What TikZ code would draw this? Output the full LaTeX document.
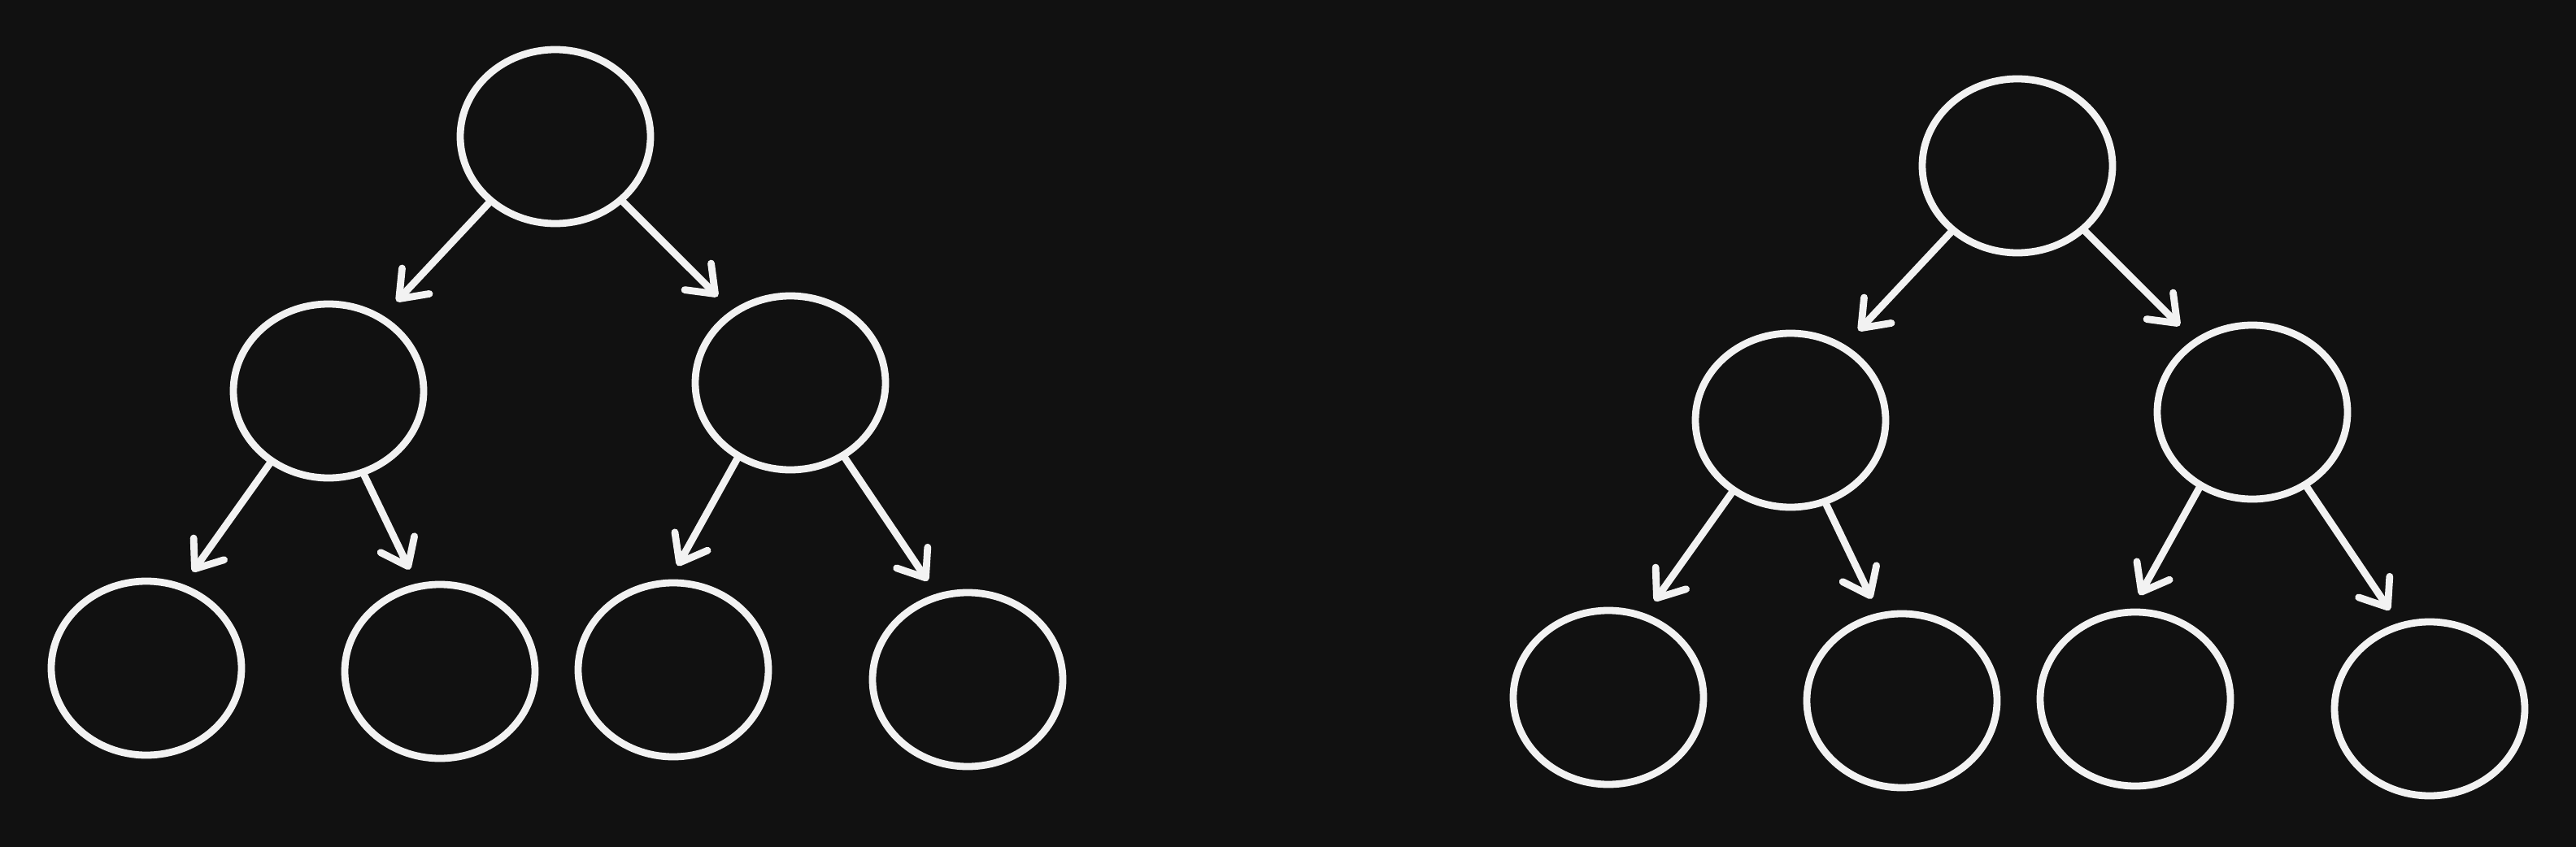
\documentclass[tikz,border=0pt]{standalone}
\usepackage{tikz}
\usetikzlibrary{arrows.meta,shapes}
\definecolor{fondo}{HTML}{111111}
\definecolor{trazo}{HTML}{F2F2F2}

\begin{document}
\begin{tikzpicture}[>={Straight Barb[length=3mm,width=4.6mm,round]},line cap=round,line join=round,line width=2.5pt]
 \tikzstyle{nodo}=[draw=trazo,ellipse,minimum width=2.34cm,minimum height=2.14cm,inner sep=0pt]
 \tikzstyle{flecha}=[->,draw=trazo,shorten >=1.9mm]

   \fill[fondo] (0,0) rectangle (31.68,-10.42);

   % two copies of the same tree
   \foreach \t/\dx/\dy in {i/0/0,d/17.98/-0.36}{
   \begin{scope}[shift={(\dx,\dy)}]
   \node[nodo] (r\t) at (6.83,-1.68) {};
   \node[nodo] (a\t) at (4.04,-4.81) {};
   \node[nodo] (b\t) at (9.72,-4.71) {};
   \node[nodo] (a\t1) at (1.80,-8.22) {};
   \node[nodo] (a\t2) at (5.41,-8.26) {};
   \node[nodo] (b\t1) at (8.28,-8.24) {};
   \node[nodo] (b\t2) at (11.90,-8.36) {};

   \path
   (r\t.225) edge[flecha,shorten >=2.4mm] (a\t.54)
   (r\t.316) edge[flecha,shorten >=2.4mm] (b\t.129)
   (a\t.231) edge[flecha] (a\t1.66)
   (a\t.293) edge[flecha] (a\t2.105)
   (b\t.235) edge[flecha] (b\t1.92)
   (b\t.306) edge[flecha] (b\t2.110);
   \end{scope}
   }

\end{tikzpicture}
\end{document}
